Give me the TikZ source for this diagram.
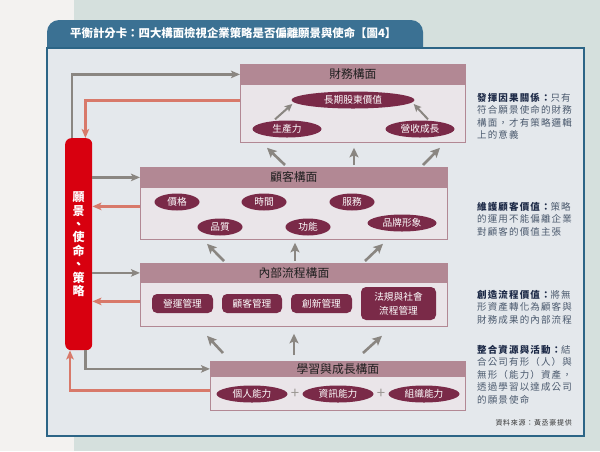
\documentclass[tikz,border=0pt]{standalone}
\usepackage{fontspec}
\setmainfont{Noto Sans CJK TC}
\usetikzlibrary{shapes.geometric,arrows.meta,calc}
\definecolor{bgleft}{HTML}{F3F2F0}
\definecolor{bgteal}{HTML}{D5E0DD}
\definecolor{panelfill}{HTML}{E4E8EC}
\definecolor{panelline}{HTML}{2C6586}
\definecolor{tabblue}{HTML}{3B7193}
\definecolor{mauve}{HTML}{B28894}
\definecolor{boxfill}{HTML}{EAE5E9}
\definecolor{maroon}{HTML}{7A2A48}
\definecolor{arrowgray}{HTML}{8A8681}
\definecolor{salmon}{HTML}{D8796A}
\definecolor{barred}{HTML}{D8000F}
\definecolor{navy}{HTML}{1E2B48}
\definecolor{bodytext}{HTML}{4B5A6E}
\begin{document}
\begin{tikzpicture}[x=1pt,y=-1pt,
  boxbody/.style={draw=mauve, fill=boxfill, line width=0.8pt, inner sep=0, anchor=north west},
  boxhead/.style={draw=mauve, fill=mauve, line width=0.8pt, inner sep=0, anchor=north west,
    font=\fontsize{11.8}{12}\selectfont, text=black!88},
  oval/.style={ellipse, fill=maroon, text=white, inner sep=0, minimum height=17,
    font=\fontsize{9.7}{10}\selectfont},
  rrect/.style={rectangle, rounded corners=5pt, fill=maroon, text=white, inner sep=0,
    minimum height=19, align=center, font=\fontsize{9.7}{14}\selectfont},
  linearrow/.style={draw=arrowgray, line width=2.2pt, -{Stealth[length=9pt,width=7.5pt,inset=2pt]}},
  salmonarrow/.style={draw=salmon, line width=2.2pt, -{Stealth[length=9pt,width=7.5pt,inset=2pt]}},
  thinarrow/.style={draw=arrowgray, line width=2pt, -{Stealth[length=7.5pt,width=7pt,inset=1.5pt]}},
  bigarrow/.style={draw=arrowgray, line width=2.6pt, -{Stealth[length=9.5pt,width=9pt,inset=2pt]}},
  para/.style={anchor=north west, inner sep=0, align=left, text=bodytext,
    font=\fontsize{9.5}{12.5}\selectfont\addfontfeature{LetterSpace=12}},
  plussign/.style={text=arrowgray!85, inner sep=0, font=\fontsize{15}{15}\selectfont}
]
\useasboundingbox (0,0) rectangle (600,451);
% background
\fill[bgleft] (0,0) rectangle (600,451);
\fill[bgteal] (74,0) rectangle (600,451);
\fill[tabblue, rounded corners=12pt] (47,20) rectangle (423,62);
\draw[panelline, fill=panelfill, line width=1.2pt] (47,48) rectangle (584,436);
\node[anchor=west, text=white, inner sep=0, font=\bfseries\fontsize{11.4}{12}\selectfont] (title) at (70,33)
  {平衡計分卡：四大構面檢視企業策略是否偏離願景與使命【圖4】};

% red bar
\node[rectangle, rounded corners=6pt, fill=barred, minimum width=27, minimum height=212,
  inner sep=0, anchor=north west, text=white, align=center,
  font=\bfseries\fontsize{12}{13.4}\selectfont] (bar) at (65,138)
  {願\\景\\、\\使\\命\\、\\策\\略};

% financial
\node[boxbody, minimum width=225, minimum height=78] (fin) at (240,64) {};
\node[boxhead, minimum width=225, minimum height=20] (finh) at (fin.north west) {財務構面};
\node[oval, minimum width=123] (ltv) at (353,100) {長期股東價值};
\node[oval, minimum width=69] (prod) at (287,129) {生產力};
\node[oval, minimum width=69] (rev) at (420,129) {營收成長};
\draw[thinarrow] ([shift={(-12,-1)}]prod.north) -- ([shift={(1,4)}]ltv.west);
\draw[thinarrow] ([shift={(8,-1)}]rev.north) -- ([shift={(-1,4)}]ltv.east);

% customer
\node[boxbody, minimum width=307, minimum height=72] (cus) at (140,167) {};
\node[boxhead, minimum width=307, minimum height=20] (cush) at (cus.north west) {顧客構面};
\node[oval, minimum width=45] (price) at (177,202) {價格};
\node[oval, minimum width=45] (time) at (264,202) {時間};
\node[oval, minimum width=45] (serv) at (352,202) {服務};
\node[oval, minimum width=45] (qual) at (220,227) {品質};
\node[oval, minimum width=45] (func) at (308,227) {功能};
\node[oval, minimum width=69] (brand) at (402,223) {品牌形象};

% internal process
\node[boxbody, minimum width=307, minimum height=63] (int) at (140,263) {};
\node[boxhead, minimum width=307, minimum height=19] (inth) at (int.north west) {內部流程構面};
\node[rrect, minimum width=61] (ops) at (182.5,303.5) {營運管理};
\node[rrect, minimum width=60] (crm) at (252,303.5) {顧客管理};
\node[rrect, minimum width=61] (inno) at (321.5,303.5) {創新管理};
\node[rrect, minimum width=75, minimum height=33] (reg) at (398.5,303.5) {法規與社會\\流程管理};

% learning & growth
\node[boxbody, minimum width=255, minimum height=49] (lrn) at (210,361) {};
\node[boxhead, minimum width=255, minimum height=15] (lrnh) at (lrn.north west) {學習與成長構面};
\node[oval, minimum width=71] (ind) at (252,394) {個人能力};
\node[oval, minimum width=71] (info) at (338,394) {資訊能力};
\node[oval, minimum width=71] (org) at (424,394) {組織能力};
\node[plussign] (plus1) at ($(ind.east)!0.5!(info.west)$) {+};
\node[plussign] (plus2) at ($(info.east)!0.5!(org.west)$) {+};

% bar -> perspectives (gray)
\draw[linearrow] ([xshift=7pt]bar.north west) |- (finh.west);
\draw[linearrow] (bar.east |- cush.west) -- (cush.west);
\draw[linearrow] (bar.east |- inth.west) -- (inth.west);
\draw[linearrow] ([xshift=-7pt]bar.south east) |- (lrnh.west);

% perspectives -> bar (salmon)
\coordinate (finout) at ([yshift=3pt]fin.west);
\coordinate (cusout) at ([yshift=-3pt]cus.west);
\coordinate (intout) at ([yshift=-6.5pt]int.west);
\coordinate (lrnout) at ([yshift=-4.5pt]lrn.west);
\draw[salmonarrow] (finout) -| ([xshift=-7pt]bar.north east);
\draw[salmonarrow] (cusout) -- (bar.east |- cusout);
\draw[salmonarrow] (intout) -- (bar.east |- intout);
\draw[salmonarrow] (lrnout) -| ([xshift=5pt]bar.south west);

% upward arrows between perspectives
\draw[bigarrow] ([shift={(145,-2)}]cus.north west) -- ([shift={(27,5)}]fin.south west);
\draw[bigarrow] ([shift={(214,-2)}]cus.north west) -- ([shift={(114,5)}]fin.south west);
\draw[bigarrow] ([shift={(283,-2)}]cus.north west) -- ([shift={(200,5)}]fin.south west);
\draw[bigarrow] ([shift={(84,-2)}]int.north west) -- ([shift={(67,4)}]cus.south west);
\draw[bigarrow] ([shift={(155,-2)}]int.north west) -- ([shift={(155,3)}]cus.south west);
\draw[bigarrow] ([shift={(225,-2)}]int.north west) -- ([shift={(243,4)}]cus.south west);
\draw[bigarrow] ([shift={(13,-8)}]lrn.north west) -- ([shift={(67,9)}]int.south west);
\draw[bigarrow] ([shift={(84,-6)}]lrn.north west) -- ([shift={(154,7)}]int.south west);
\draw[bigarrow] ([shift={(153,-8)}]lrn.north west) -- ([shift={(242,9)}]int.south west);

% side notes
\node[para] (t1) at (477,93) {{\bfseries\color{navy}發揮因果關係：}只有\\符合願景使命的財務\\構面，才有策略邏輯\\上的意義};
\node[para] (t2) at (477,202) {{\bfseries\color{navy}維護顧客價值：}策略\\的運用不能偏離企業\\對顧客的價值主張};
\node[para] (t3) at (477,290) {{\bfseries\color{navy}創造流程價值：}將無\\形資產轉化為顧客與\\財務成果的內部流程};
\node[para] (t4) at (477,345) {{\bfseries\color{navy}整合資源與活動：}結\\合公司有形（人）與\\無形（能力）資產，\\透過學習以達成公司\\的願景使命};
\node[anchor=east, inner sep=0, text=black!80, font=\fontsize{7}{8}\selectfont\addfontfeature{LetterSpace=10}] (src) at (572,423) {資料來源：黃丞豪提供};
\end{tikzpicture}
\end{document}
